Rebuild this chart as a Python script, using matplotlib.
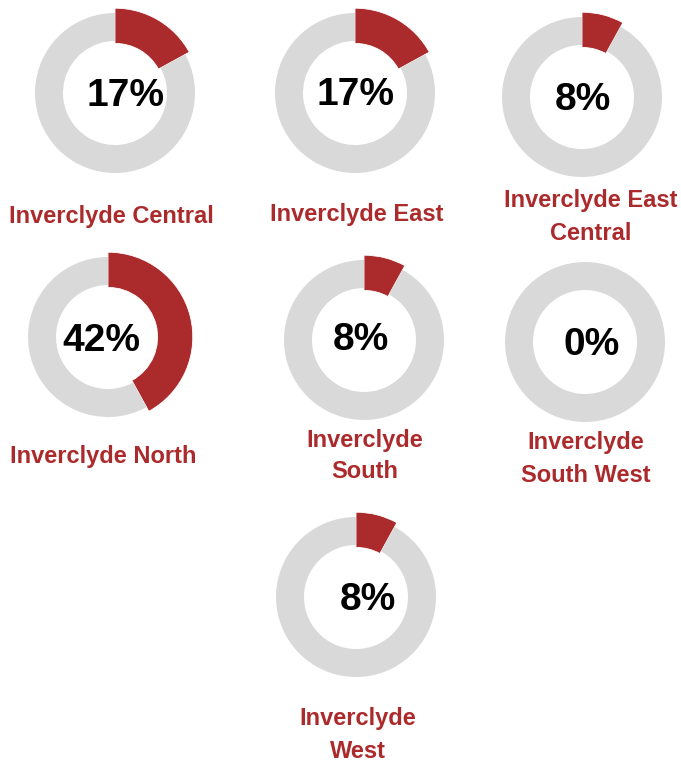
import matplotlib.pyplot as plt

plt.rcParams['font.family'] = ['Liberation Sans', 'DejaVu Sans']

# 数据
wards = ['Inverclyde Central', 'Inverclyde East', 'Inverclyde East\nCentral',
         'Inverclyde North', 'Inverclyde\nSouth', 'Inverclyde\nSouth West',
         'Inverclyde\nWest']
pct = [17, 17, 8, 42, 8, 0, 8]

RED = '#AB2A2C'
GREY = '#D9D9D9'

W, H = 681, 764
fig = plt.figure(figsize=(W / 100, H / 100), dpi=100)

# 版面 (像素): 圆环中心, 百分比文字, 标签
centers = [(115, 93), (355, 93), (582, 97), (108, 337), (364, 340), (585, 342), (356, 597)]
pct_xy = [(125, 96), (355, 95), (583, 100), (101, 341), (361, 340), (592, 345), (368, 600)]
label_xy = [(111, 216), (357, 214), (591, 217), (103, 456), (365, 456), (586, 459), (358, 735)]

R = 80  # 外半径, 像素
for i in range(len(wards)):
    cx, cy = centers[i]
    size = R * 2.2
    ax = fig.add_axes([(cx - size / 2) / W, 1 - (cy + size / 2) / H, size / W, size / H])
    wedges, _ = ax.pie([pct[i], 100 - pct[i]], colors=[RED, GREY], startangle=90,
                       counterclock=False, radius=1.0,
                       wedgeprops=dict(width=0.35, linewidth=0))
    wedges[0].set_radius(1.06)
    wedges[0].set_width(0.44)
    wedges[0].set_edgecolor('white')
    wedges[0].set_linewidth(0.6)
    ax.set_xlim(-1.1, 1.1)
    ax.set_ylim(-1.1, 1.1)
    ax.set_aspect('equal')
    ax.axis('off')

    px, py = pct_xy[i]
    fig.text(px / W, 1 - py / H, f'{pct[i]}%', ha='center', va='center',
             fontsize=28, fontweight='bold', color='black')
    lx, ly = label_xy[i]
    fig.text(lx / W, 1 - ly / H, wards[i], ha='center', va='center',
             fontsize=17, fontweight='bold', color=RED, linespacing=1.5)

plt.savefig('out.png', dpi=100)
